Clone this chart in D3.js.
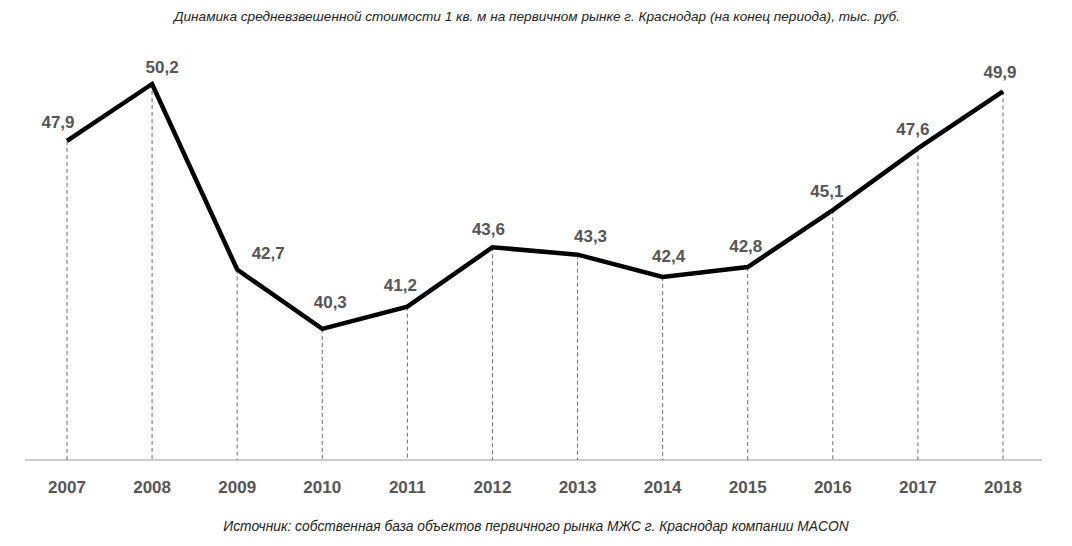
<!DOCTYPE html><html><head><meta charset="utf-8"><script src="https://cdn.jsdelivr.net/npm/d3@7"></script>
<style>body{margin:0;background:#fff}</style></head><body><svg id="c" width="1072" height="546"></svg>
<script>
const years=["2007","2008","2009","2010","2011","2012","2013","2014","2015","2016","2017","2018"];
const values=[47.9,50.2,42.7,40.3,41.2,43.6,43.3,42.4,42.8,45.1,47.6,49.9];
const labels=["47,9","50,2","42,7","40,3","41,2","43,6","43,3","42,4","42,8","45,1","47,6","49,9"];
const title="Динамика средневзвешенной стоимости 1 кв. м на первичном рынке г. Краснодар (на конец периода), тыс. руб.";
const source="Источник: собственная база объектов первичного рынка МЖС г. Краснодар компании MACON";
const svg=d3.select("#c");
const x=d3.scalePoint().domain(years).range([67,1003]);
const y=d3.scaleLinear().domain([35,50.2]).range([460,84]);
const f="Liberation Sans, Arial, sans-serif";
svg.append("text").attr("x",537).attr("y",21).attr("text-anchor","middle").attr("font-family",f).attr("font-style","italic").attr("font-size",13.6).attr("fill","#222").text(title);
svg.append("text").attr("x",536).attr("y",531).attr("text-anchor","middle").attr("font-family",f).attr("font-style","italic").attr("font-size",13.8).attr("fill","#222").text(source);
svg.append("line").attr("x1",25).attr("x2",1042).attr("y1",460).attr("y2",460).attr("stroke","#ccc").attr("stroke-width",2);
svg.selectAll(".d").data(values).join("line").attr("x1",(d,i)=>x(years[i])).attr("x2",(d,i)=>x(years[i])).attr("y1",d=>y(d)).attr("y2",460).attr("stroke","#444").attr("stroke-dasharray","4,3").attr("stroke-width",0.8);
svg.append("path").datum(values).attr("fill","none").attr("stroke","#000").attr("stroke-width",4.5).attr("stroke-linejoin","miter")
 .attr("d",d3.line().x((d,i)=>x(years[i])).y(d=>y(d)));
// label layout offsets (dx, dy) relative to point
const lo=[[-9,-13],[10,-11],[31,-11],[8,-21],[-7,-16],[-4,-12],[13,-13],[6,-15],[-2,-15],[-6,-13],[-5,-13],[-3,-13]];
svg.selectAll(".l").data(values).join("text").attr("x",(d,i)=>x(years[i])+lo[i][0]).attr("y",(d,i)=>y(d)+lo[i][1]).attr("text-anchor","middle").attr("font-family",f).attr("font-weight","bold").attr("font-size",17).attr("fill","#555").text((d,i)=>labels[i]);
svg.selectAll(".t").data(years).join("text").attr("x",d=>x(d)).attr("y",493).attr("text-anchor","middle").attr("font-family",f).attr("font-weight","bold").attr("font-size",17).attr("fill","#555").text(d=>d);
</script></body></html>
